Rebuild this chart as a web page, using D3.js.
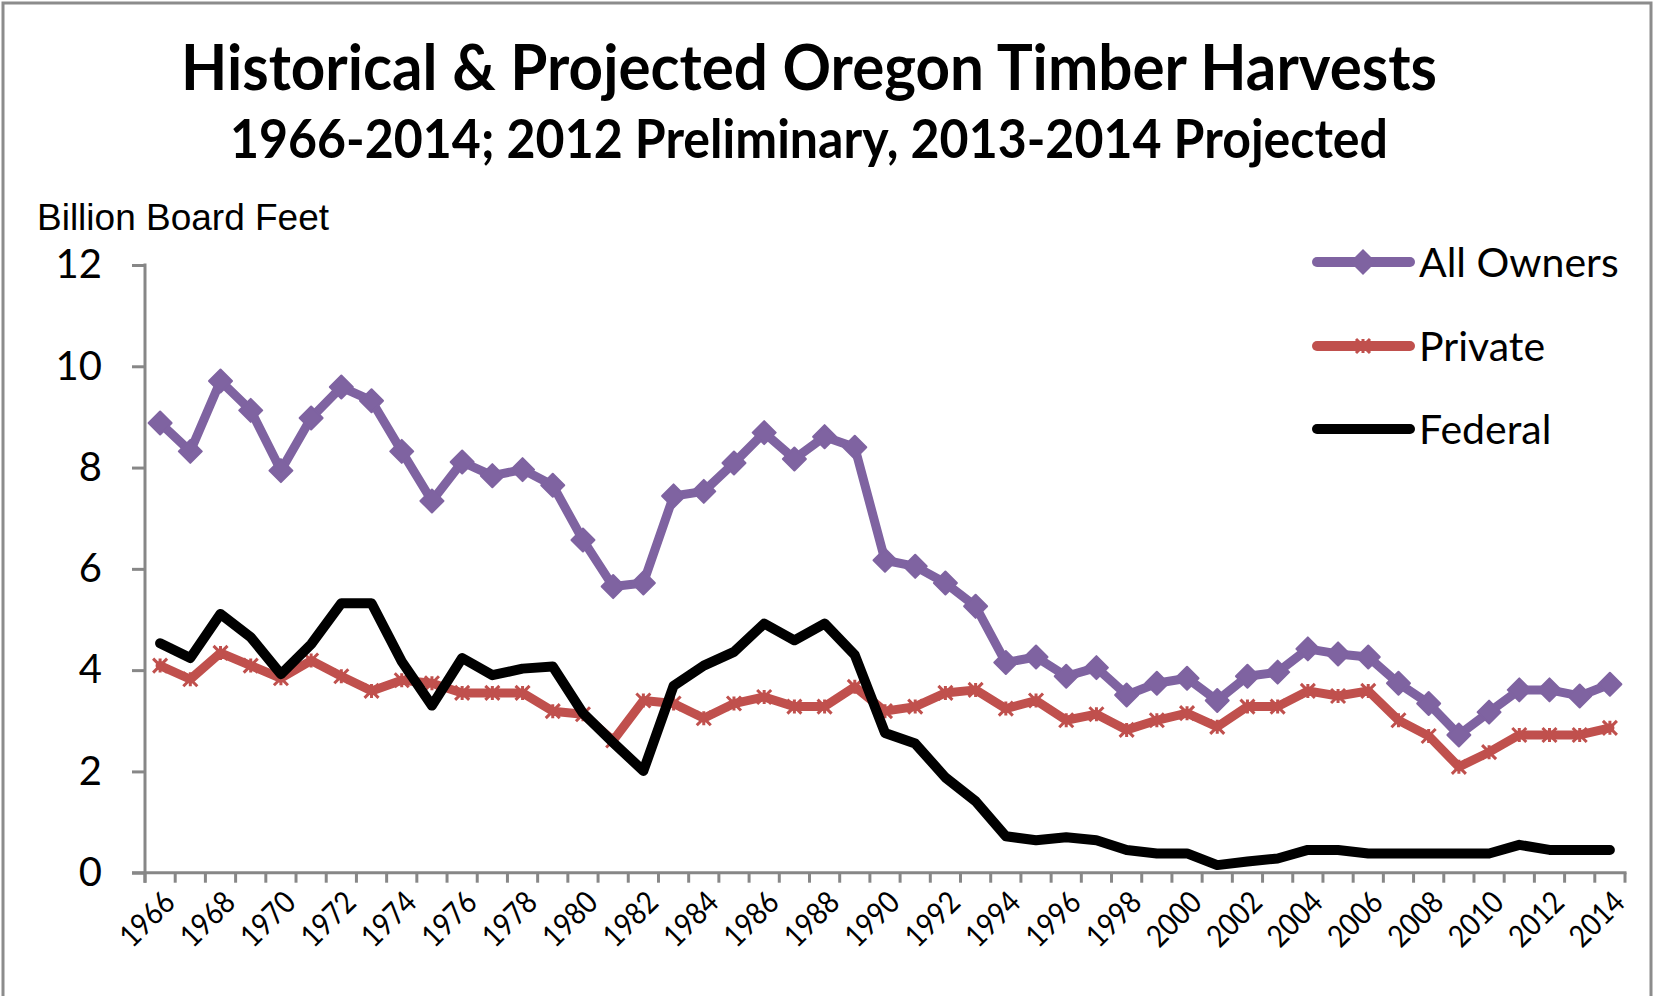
<!DOCTYPE html>
<html>
<head>
<meta charset="utf-8">
<script src="https://cdn.jsdelivr.net/npm/d3@7"></script>
<style>
  html, body { margin: 0; padding: 0; background: #fff; }
  svg { display: block; }
</style>
</head>
<body>
<svg id="chart" width="1654" height="996"></svg>
<script>
const years = d3.range(1966, 2015);
const allOwners = [8.88, 8.32, 9.71, 9.13, 7.94, 8.98, 9.59, 9.32, 8.32, 7.34,
  8.11, 7.84, 7.96, 7.65, 6.57, 5.65, 5.72, 7.44, 7.53, 8.09,
  8.69, 8.17, 8.61, 8.40, 6.17, 6.05, 5.72, 5.26, 4.15, 4.26,
  3.88, 4.05, 3.51, 3.74, 3.84, 3.40, 3.88, 3.96, 4.42, 4.32,
  4.26, 3.74, 3.34, 2.72, 3.17, 3.61, 3.61, 3.49, 3.72];
const privateOwners = [4.09, 3.82, 4.34, 4.09, 3.84, 4.19, 3.88, 3.59, 3.80, 3.74,
  3.55, 3.55, 3.55, 3.19, 3.13, 2.61, 3.40, 3.34, 3.05, 3.34,
  3.47, 3.28, 3.28, 3.67, 3.19, 3.28, 3.55, 3.61, 3.24, 3.40,
  3.01, 3.13, 2.82, 3.01, 3.15, 2.88, 3.28, 3.28, 3.59, 3.49,
  3.59, 3.01, 2.70, 2.09, 2.38, 2.72, 2.72, 2.72, 2.86];
const federal = [4.53, 4.24, 5.11, 4.65, 3.92, 4.51, 5.32, 5.32, 4.17, 3.30,
  4.24, 3.90, 4.03, 4.07, 3.15, 2.57, 2.01, 3.69, 4.09, 4.36,
  4.92, 4.59, 4.92, 4.30, 2.76, 2.55, 1.88, 1.41, 0.72, 0.64,
  0.70, 0.64, 0.45, 0.38, 0.38, 0.15, 0.22, 0.28, 0.45, 0.45,
  0.38, 0.38, 0.38, 0.38, 0.38, 0.55, 0.45, 0.45, 0.45];
const yTicks = [0, 2, 4, 6, 8, 10, 12];
const xTickLabels = years.filter(y => (y - 1966) % 2 === 0);
const seriesNames = ["All Owners", "Private", "Federal"];

const title = "Historical & Projected Oregon Timber Harvests";
const subtitle = "1966-2014; 2012 Preliminary, 2013-2014 Projected";
const yAxisTitle = "Billion Board Feet";

(function () {
const svg = d3.select("#chart");
const C = { purple: "#7F63A1", red: "#C0504D", black: "#000000", axis: "#878787" };

const pLeft = 145, pRight = 1625, pTop = 265, pBottom = 872.7;
const x = d3.scaleBand().domain(years).range([pLeft, pRight]).padding(0);
const y = d3.scaleLinear().domain([0, 12]).range([pBottom, pTop]);
const cx = d => x(d) + x.bandwidth() / 2;

// frame
svg.append("path")
  .attr("d", `M3,1000 L3,3 L1651,3 L1651,1000`)
  .attr("fill", "none").attr("stroke", "#8c8c8c").attr("stroke-width", 3);

// titles
svg.append("text").attr("x", 809).attr("y", 90).attr("text-anchor", "middle")
  .attr("font-family", "Lato").attr("font-weight", 700).attr("font-size", 64)
  .attr("textLength", 1256).attr("lengthAdjust", "spacingAndGlyphs")
  .attr("fill", "#000").text(title);
svg.append("text").attr("x", 809).attr("y", 158).attr("text-anchor", "middle")
  .attr("font-family", "Lato").attr("font-weight", 700).attr("font-size", 53)
  .attr("textLength", 1158).attr("lengthAdjust", "spacingAndGlyphs")
  .attr("fill", "#000").text(subtitle);
svg.append("text").attr("x", 37).attr("y", 230)
  .attr("font-family", "Liberation Sans").attr("font-size", 37)
  .attr("fill", "#000").text(yAxisTitle);

// Y axis
const yAxis = d3.axisLeft(y).tickValues(yTicks).tickSize(13).tickPadding(30).tickFormat(d3.format("d"));
const gy = svg.append("g").attr("transform", `translate(${pLeft},0)`).call(yAxis);
gy.select(".domain").remove();
gy.selectAll(".tick line").attr("stroke", C.axis).attr("stroke-width", 3);
gy.selectAll(".tick text").attr("font-family", "Lato").attr("font-size", 40).attr("fill", "#000");
svg.append("line").attr("x1", pLeft).attr("x2", pLeft).attr("y1", pTop - 1.5).attr("y2", pBottom + 10)
  .attr("stroke", C.axis).attr("stroke-width", 3);

// X axis line and ticks at category boundaries
const boundaries = years.map(d => x(d)).concat([pRight]);
svg.append("line").attr("x1", pLeft - 13).attr("x2", pRight + 1.5).attr("y1", pBottom).attr("y2", pBottom)
  .attr("stroke", C.axis).attr("stroke-width", 3);
svg.append("g").selectAll("line").data(boundaries).join("line")
  .attr("x1", d => d).attr("x2", d => d).attr("y1", pBottom).attr("y2", pBottom + 10)
  .attr("stroke", C.axis).attr("stroke-width", 3);

// X labels
svg.append("g").selectAll("text").data(xTickLabels).join("text")
  .attr("transform", d => `translate(${cx(d) + 9},${pBottom + 24}) rotate(-45)`)
  .attr("text-anchor", "end").attr("dy", "0.35em")
  .attr("font-family", "Lato").attr("font-size", 31)
  .attr("textLength", 63).attr("lengthAdjust", "spacingAndGlyphs")
  .attr("fill", "#000")
  .text(d => d);

// lines
const line = vals => d3.line().x((d, i) => cx(years[i])).y(d => y(d))(vals);
const diamond = s => `M0,${-s} L${s},0 L0,${s} L${-s},0 Z`;
const star = s => `M${-s},${-s} L${s},${s} M${-s},${s} L${s},${-s} M0,${-s} L0,${s}`;

svg.append("path").attr("d", line(allOwners)).attr("fill", "none")
  .attr("stroke", C.purple).attr("stroke-width", 9).attr("stroke-linejoin", "round").attr("stroke-linecap", "round");
svg.append("g").selectAll("path").data(allOwners).join("path")
  .attr("transform", (d, i) => `translate(${cx(years[i])},${y(d)})`)
  .attr("d", diamond(11.5)).attr("fill", C.purple).attr("stroke", C.purple)
  .attr("stroke-width", 2).attr("stroke-linejoin", "round");

svg.append("path").attr("d", line(privateOwners)).attr("fill", "none")
  .attr("stroke", C.red).attr("stroke-width", 9).attr("stroke-linejoin", "round").attr("stroke-linecap", "round");
svg.append("g").selectAll("path").data(privateOwners).join("path")
  .attr("transform", (d, i) => `translate(${cx(years[i])},${y(d)})`)
  .attr("d", star(7)).attr("fill", "none").attr("stroke", C.red).attr("stroke-width", 3);

svg.append("path").attr("d", line(federal)).attr("fill", "none")
  .attr("stroke", C.black).attr("stroke-width", 10).attr("stroke-linejoin", "round").attr("stroke-linecap", "round");

// legend
const legY = [262, 346, 429];
const legColors = [C.purple, C.red, C.black];
const lg = svg.append("g");
seriesNames.forEach((name, i) => {
  lg.append("line").attr("x1", 1317).attr("x2", 1410).attr("y1", legY[i]).attr("y2", legY[i])
    .attr("stroke", legColors[i]).attr("stroke-width", 10).attr("stroke-linecap", "round");
  if (i === 0) {
    lg.append("path").attr("transform", `translate(1363,${legY[i]})`).attr("d", diamond(13))
      .attr("fill", C.purple);
  }
  if (i === 1) {
    lg.append("path").attr("transform", `translate(1363,${legY[i]})`).attr("d", star(7))
      .attr("fill", "none").attr("stroke", C.red).attr("stroke-width", 3);
  }
  lg.append("text").attr("x", 1419).attr("y", legY[i]).attr("dy", "0.36em")
    .attr("font-family", "Lato").attr("font-size", 41).attr("fill", "#000").text(name);
});
})();
</script>
</body>
</html>
